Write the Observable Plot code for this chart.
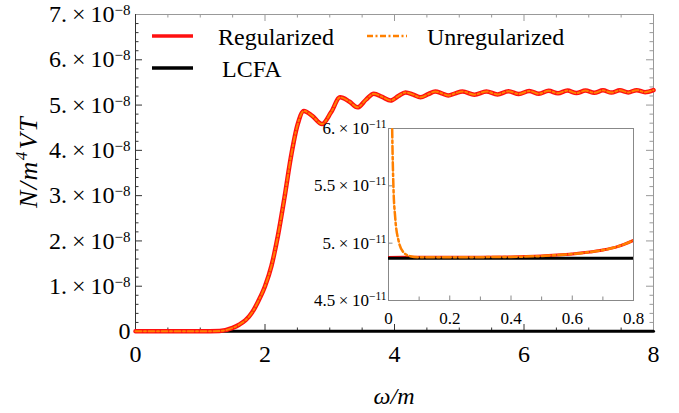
<!DOCTYPE html>
<html><head><meta charset="utf-8">
<script src="https://cdn.jsdelivr.net/npm/d3@7"></script>
<script src="https://cdn.jsdelivr.net/npm/@observablehq/plot@0.6"></script>
<style>body{margin:0;background:#fff}</style>
</head><body><div id="chart"></div>
<script>
// ---------- data (main panel: N/m^4VT in units of 1e-8) ----------
const mainOmega = [0, 0.5, 1.0, 1.3, 1.5, 1.6, 1.7, 1.8, 1.9, 2.0, 2.1, 2.2, 2.3, 2.4, 2.5, 2.6, 2.73, 2.88, 3.02, 3.16, 3.30, 3.43, 3.56, 3.68, 3.81, 3.94, 4.06, 4.17, 4.29, 4.40, 4.52, 4.63, 4.73, 4.83, 4.94, 5.05, 5.235, 5.42, 5.59, 5.76, 5.92, 6.08, 6.23, 6.38, 6.525, 6.67, 6.81, 6.95, 7.085, 7.22, 7.35, 7.48, 7.61, 7.74, 7.87, 8.0];
const mainRegularized = [0.0049, 0.0049, 0.005, 0.012, 0.08, 0.15, 0.25, 0.42, 0.68, 1.0, 1.45, 2.12, 2.95, 3.85, 4.55, 4.87, 4.76, 4.58, 4.84, 5.17, 5.08, 4.95, 5.12, 5.25, 5.18, 5.10, 5.20, 5.28, 5.23, 5.17, 5.24, 5.30, 5.26, 5.21, 5.26, 5.30, 5.23, 5.30, 5.235, 5.305, 5.245, 5.31, 5.25, 5.315, 5.26, 5.32, 5.265, 5.32, 5.27, 5.325, 5.275, 5.325, 5.28, 5.33, 5.285, 5.33];
const mainUnregularized = [0.0052, 0.0049, 0.005, 0.012, 0.08, 0.15, 0.25, 0.42, 0.68, 1.0, 1.45, 2.12, 2.95, 3.85, 4.55, 4.87, 4.76, 4.58, 4.84, 5.17, 5.08, 4.95, 5.12, 5.25, 5.18, 5.10, 5.20, 5.28, 5.23, 5.17, 5.24, 5.30, 5.26, 5.21, 5.26, 5.30, 5.23, 5.30, 5.235, 5.305, 5.245, 5.31, 5.25, 5.315, 5.26, 5.32, 5.265, 5.32, 5.27, 5.325, 5.275, 5.325, 5.28, 5.33, 5.285, 5.33];
const lcfaOmega = [0, 8];
const lcfaMain = [0.00487, 0.00487];

// ---------- data (inset: units of 1e-11) ----------
const insetOmegaReg = [0, 0.1, 0.2, 0.3, 0.4, 0.45, 0.5, 0.55, 0.6, 0.65, 0.7, 0.75, 0.8];
const insetRegularized = [4.876, 4.877, 4.877, 4.878, 4.880, 4.883, 4.888, 4.896, 4.906, 4.920, 4.940, 4.972, 5.025];
const insetOmegaUnreg = [0.008, 0.012, 0.016, 0.022, 0.033, 0.049, 0.071, 0.1, 0.15, 0.2, 0.3, 0.4, 0.45, 0.5, 0.55, 0.6, 0.65, 0.7, 0.75, 0.8];
const insetUnregularized = [7.0, 6.0, 5.5, 5.22, 5.02, 4.92, 4.886, 4.877, 4.877, 4.877, 4.878, 4.880, 4.883, 4.888, 4.896, 4.906, 4.920, 4.940, 4.972, 5.025];
const insetLcfaOmega = [0, 0.8];
const insetLcfa = [4.869, 4.869];

// ---------- axes / ticks ----------
const xDomain = [0, 8];
const yDomain = [0, 7];
const xTicks = [0, 2, 4, 6, 8];
const xTickLabels = ["0", "2", "4", "6", "8"];
const xMinorTicks = [0.5, 1, 1.5, 2.5, 3, 3.5, 4.5, 5, 5.5, 6.5, 7, 7.5];
const yTicks = [0, 1, 2, 3, 4, 5, 6, 7];
const yTickLabels = ["0", "1.×10^−8", "2.×10^−8", "3.×10^−8", "4.×10^−8", "5.×10^−8", "6.×10^−8", "7.×10^−8"];
const yMinorTicks = [0.2, 0.4, 0.6, 0.8, 1.2, 1.4, 1.6, 1.8, 2.2, 2.4, 2.6, 2.8, 3.2, 3.4, 3.6, 3.8, 4.2, 4.4, 4.6, 4.8, 5.2, 5.4, 5.6, 5.8, 6.2, 6.4, 6.6, 6.8];
const insetXDomain = [0, 0.8];
const insetYDomain = [4.5, 6.0];
const insetXTicks = [0, 0.2, 0.4, 0.6, 0.8];
const insetXTickLabels = ["0", "0.2", "0.4", "0.6", "0.8"];
const insetXMinorTicks = [0.1, 0.3, 0.5, 0.7];
const insetYTicks = [4.5, 5.0, 5.5, 6.0];
const insetYTickLabels = ["4.5×10^−11", "5.×10^−11", "5.5×10^−11", "6.×10^−11"];
const legendLabels = ["Regularized", "Unregularized", "LCFA"];
const xTitle = "ω/m";

// ---------- styles ----------
const FONT = "'Liberation Serif', 'Times New Roman', serif";
const RED = "#ff1010", ORANGE = "#ff8000", BLACK = "#000";
const DASH = "6,2.5,2,2.5";
const W = 679, H = 413, ML = 135, MR = 26, MT = 14, MB = 82;
const FW = W - ML - MR, FH = H - MT - MB;
const rows = (xs, ys) => xs.map((x, i) => ({x, y: ys[i]}));

const main = Plot.plot({
  width: W, height: H, marginLeft: ML, marginRight: MR, marginTop: MT, marginBottom: MB,
  x: {domain: xDomain}, y: {domain: yDomain},
  style: {fontFamily: FONT, fontSize: "24px", background: "white", color: "#000", overflow: "visible"},
  marks: [
    Plot.tickY(yMinorTicks, {y: d => d, insetRight: FW - 3.5, stroke: "#333"}),
    Plot.tickY(yTicks, {y: d => d, insetRight: FW - 7, stroke: "#333"}),
    Plot.tickY(yMinorTicks, {y: d => d, insetLeft: FW - 3.5, stroke: "#999"}),
    Plot.tickY(yTicks, {y: d => d, insetLeft: FW - 7, stroke: "#999"}),
    Plot.tickX(xMinorTicks, {x: d => d, insetTop: FH - 3.5, stroke: "#333"}),
    Plot.tickX(xTicks, {x: d => d, insetTop: FH - 7, stroke: "#333"}),
    Plot.tickX(xMinorTicks, {x: d => d, insetBottom: FH - 3.5, stroke: "#999"}),
    Plot.tickX(xTicks, {x: d => d, insetBottom: FH - 7, stroke: "#999"}),
    Plot.ruleX([xDomain[1]], {stroke: "#999"}),
    Plot.ruleY([yDomain[1]], {stroke: "#999"}),
    Plot.ruleX([xDomain[0]], {stroke: "#333"}),
    Plot.ruleY([yDomain[0]], {stroke: "#333"}),
    Plot.axisX({ticks: xTicks, tickFormat: d => xTickLabels[xTicks.indexOf(d)], tickSize: 0, tickPadding: 13, label: null}),
    Plot.axisY({ticks: yTicks, tickFormat: d => yTickLabels[yTicks.indexOf(d)], tickSize: 0, tickPadding: 5, label: null}),
    Plot.line(rows(lcfaOmega, lcfaMain), {x: "x", y: "y", stroke: BLACK, strokeWidth: 3}),
    Plot.line(rows(mainOmega, mainRegularized), {x: "x", y: "y", stroke: RED, strokeWidth: 4.5, curve: "monotone-x"}),
    Plot.line(rows(mainOmega, mainUnregularized), {x: "x", y: "y", stroke: ORANGE, strokeWidth: 2, strokeDasharray: DASH, curve: "monotone-x"})
  ]
});

// ---------- inset ----------
const IW = 245, IH = 172, IML = 100, IMR = 4, IMT = 10, IMB = 30;
const IWT = IML + IW + IMR, IHT = IMT + IH + IMB;
const inset = Plot.plot({
  width: IWT, height: IHT,
  marginLeft: IML, marginRight: IMR, marginTop: IMT, marginBottom: IMB,
  x: {domain: insetXDomain}, y: {domain: insetYDomain},
  style: {fontFamily: FONT, fontSize: "17px", background: "none", color: "#000", overflow: "visible"},
  marks: [
    Plot.tickX(insetXMinorTicks, {x: d => d, insetTop: IH - 3.5, stroke: "#888"}),
    Plot.tickX(insetXTicks, {x: d => d, insetTop: IH - 4.5, stroke: "#888"}),
    Plot.tickY(insetYTicks, {y: d => d, insetRight: IW - 4.5, stroke: "#888"}),
    Plot.frame({stroke: "#888"}),
    Plot.axisX({ticks: insetXTicks, tickFormat: d => insetXTickLabels[insetXTicks.indexOf(d)], tickSize: 0, tickPadding: 11, label: null}),
    Plot.axisY({ticks: insetYTicks, tickFormat: d => insetYTickLabels[insetYTicks.indexOf(d)], tickSize: 0, tickPadding: 2, label: null}),
    Plot.line(rows(insetOmegaReg, insetRegularized), {x: "x", y: "y", stroke: RED, strokeWidth: 3, curve: "monotone-x", clip: true}),
    Plot.line(rows(insetLcfaOmega, insetLcfa), {x: "x", y: "y", stroke: BLACK, strokeWidth: 3, clip: true}),
    Plot.line(rows(insetOmegaUnreg, insetUnregularized), {x: "x", y: "y", stroke: ORANGE, strokeWidth: 2.5, strokeDasharray: "8,3,2.5,3", curve: "monotone-x", clip: true})
  ]
});
inset.setAttribute("x", 388 - IML);
inset.setAttribute("y", 128 - IMT);
inset.style.width = IWT + "px";
inset.style.height = IHT + "px";
inset.style.maxWidth = "none";
main.appendChild(inset);

// ---------- superscript tick labels (Mathematica style a.×10^b) ----------
function superscriptify(root) {
  d3.select(root).selectAll("text").each(function () {
    const t = this.textContent;
    const m = t.match(/^(.*)×10\^(.*)$/);
    if (!m) return;
    const small = this.closest("svg") !== root;
    const gap = small ? 3.5 : 5;
    const el = d3.select(this);
    el.selectAll("*").remove();
    el.text(null);
    el.append("tspan").text(m[1]);
    el.append("tspan").attr("dx", gap).text("×");
    el.append("tspan").attr("dx", gap).text("10");
    el.append("tspan").attr("dy", small ? -6 : -7).attr("font-size", small ? 11.5 : 15).text(m[2]);
  });
}
superscriptify(main);

// ---------- titles & legend ----------
const svg = d3.select(main);
const g = svg.append("g").attr("font-family", FONT).attr("font-size", 24).attr("fill", "#000").attr("text-anchor", "start");
g.append("text").attr("x", 394).attr("y", 404).attr("text-anchor", "middle").attr("font-style", "italic").text(xTitle);
const yl = g.append("text").attr("transform", "translate(37,162) rotate(-90)").attr("text-anchor", "middle")
  .attr("font-style", "italic").attr("font-size", 26).attr("letter-spacing", 1.5);
yl.append("tspan").text("N/m");
yl.append("tspan").attr("dy", -10).attr("font-size", 17).text("4");
yl.append("tspan").attr("dy", 10).attr("dx", 1).text("VT");

g.append("line").attr("x1", 152).attr("x2", 193).attr("y1", 36).attr("y2", 36).attr("stroke", RED).attr("stroke-width", 3.5);
g.append("text").attr("x", 218).attr("y", 45).text(legendLabels[0]);
g.append("line").attr("x1", 367).attr("x2", 407).attr("y1", 36).attr("y2", 36).attr("stroke", ORANGE).attr("stroke-width", 2.5).attr("stroke-dasharray", DASH);
g.append("text").attr("x", 427).attr("y", 45).text(legendLabels[1]);
g.append("line").attr("x1", 152).attr("x2", 193).attr("y1", 68).attr("y2", 68).attr("stroke", BLACK).attr("stroke-width", 3.5);
g.append("text").attr("x", 222).attr("y", 77).text(legendLabels[2]);

document.getElementById("chart").appendChild(main);
</script></body></html>
